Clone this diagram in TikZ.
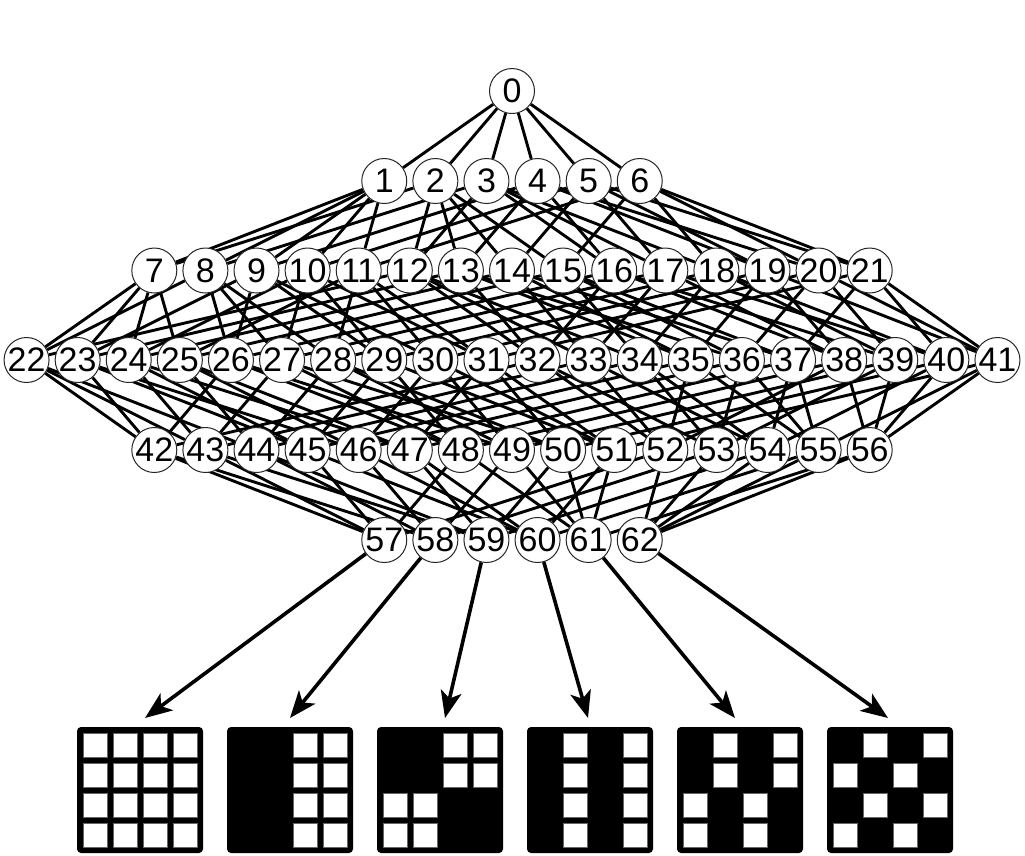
\documentclass[tikz,border=0pt]{standalone}
\usepackage{fontspec}
\setmainfont{Liberation Sans}
\usetikzlibrary{arrows.meta}
\pgfdeclarelayer{background}
\pgfsetlayers{background,main}
\tikzset{
  vert/.style={circle, draw=black!85, line width=1pt, fill=white, minimum size=45pt, inner sep=0pt, font=\fontsize{34}{34}\selectfont},
  edge/.style={line width=2.9pt, black},
  arr/.style={line width=3.6pt, -{Stealth[length=27pt,width=21pt,inset=7pt]}},
  gridbox/.style={rectangle, fill=black, rounded corners=4pt, minimum size=126pt, inner sep=0pt},
  wcell/.style={fill=white, draw=black!60, line width=0.6pt}
}
\newcommand\placelevel[4]{%
  \foreach \m [count=\i from 0] in {#4}{%
    \pgfmathsetmacro\xx{512+(\i-(#2-1)/2)*51.1}%
    \pgfmathtruncatemacro\lab{#3+\i}%
    \node[vert] (m\m) at (\xx,#1) {\lab};
  }%
}
\newcommand\whitecells[2]{%
  \foreach \c/\r in {#2}{%
    \filldraw[wcell] ({77+150*(#1-1)+6+30*\c},{727+6+30*\r}) rectangle +(24,24);
  }%
}
\begin{document}
\begin{tikzpicture}[x=1pt,y=-1pt]
\useasboundingbox (0,0) rectangle (1025,855);
% nodes of the lattice
\placelevel{91}{1}{0}{0}
\placelevel{181}{6}{1}{1,2,4,8,16,32}
\placelevel{270.5}{15}{7}{3,5,9,17,33,6,10,18,34,12,20,36,24,40,48}
\placelevel{360}{20}{22}{7,11,19,35,13,21,37,25,41,49,14,22,38,26,42,50,28,44,52,56}
\placelevel{450}{15}{42}{15,23,39,27,43,51,29,45,53,57,30,46,54,58,60}
\placelevel{540}{6}{57}{31,47,55,59,61,62}
% edges of the lattice
\begin{pgfonlayer}{background}
\foreach \m in {0,...,62}{%
  \foreach \p in {1,2,4,8,16,32}{%
    \pgfmathtruncatemacro\mybit{mod(floor(\m/\p),2)}%
    \pgfmathtruncatemacro\mynn{\m+\p}%
    \ifnum\mybit=0 \ifnum\mynn<63 \draw[edge] (m\m) -- (m\mynn);\fi\fi
  }%
}
\end{pgfonlayer}
% pattern grids
\foreach \k in {1,...,6}{%
  \node[gridbox] (g\k) at ({140+150*(\k-1)},790) {};
}
\whitecells{1}{0/0,1/0,2/0,3/0,0/1,1/1,2/1,3/1,0/2,1/2,2/2,3/2,0/3,1/3,2/3,3/3}
\whitecells{2}{2/0,3/0,2/1,3/1,2/2,3/2,2/3,3/3}
\whitecells{3}{2/0,3/0,2/1,3/1,0/2,1/2,0/3,1/3}
\whitecells{4}{1/0,3/0,1/1,3/1,1/2,3/2,1/3,3/3}
\whitecells{5}{1/0,3/0,1/1,3/1,0/2,2/2,0/3,2/3}
\whitecells{6}{1/0,3/0,0/1,2/1,1/2,3/2,0/3,2/3}
% arrow targets
\coordinate (t1) at (145,718);
\coordinate (t2) at (290,718);
\coordinate (t3) at (445,718);
\coordinate (t4) at (588,718);
\coordinate (t5) at (735,718);
\coordinate (t6) at (888,718);
\draw[arr] (m31) -- (t1);
\draw[arr] (m47) -- (t2);
\draw[arr] (m55) -- (t3);
\draw[arr] (m59) -- (t4);
\draw[arr] (m61) -- (t5);
\draw[arr] (m62) -- (t6);
\end{tikzpicture}
\end{document}
